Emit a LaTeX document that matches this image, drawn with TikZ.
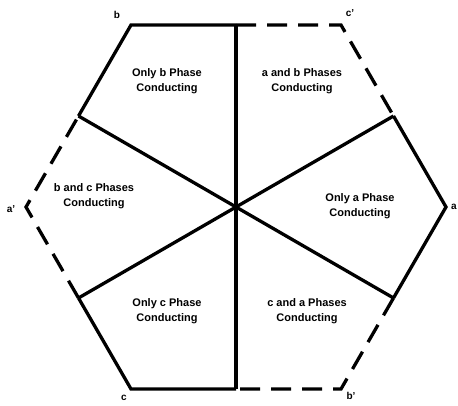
\documentclass[tikz,border=0pt]{standalone}
\usepackage{fontspec}
\setmainfont{Liberation Sans}
\begin{document}
\begin{tikzpicture}[x=1pt,y=-1pt,
  edge/.style={line width=3.3pt,line join=miter},
  dashedge/.style={line width=3.3pt,dash pattern=on 20pt off 11pt},
  region/.style={font=\fontsize{11}{15}\selectfont\bfseries,align=center,inner sep=0pt},
  vlabel/.style={font=\fontsize{10}{12}\selectfont\bfseries,inner sep=0pt}]
\useasboundingbox (0,0) rectangle (458,405);
% vertices
\coordinate (O) at (236,207);
\coordinate (A) at (446,207);
\coordinate (Cp) at (341,25);
\coordinate (B) at (131,25);
\coordinate (Ap) at (26,207);
\coordinate (C) at (131,389);
\coordinate (Bp) at (341,389);
% edge midpoints
\coordinate (Mt) at (236,25);
\coordinate (Mb) at (236,389);
\coordinate (M30) at (393.5,116);
\coordinate (M150) at (78.5,116);
\coordinate (M210) at (78.5,298);
\coordinate (M330) at (393.5,298);
% solid edges
\draw[edge] (M150) -- (B) -- (Mt);
\draw[edge] (M30) -- (A) -- (M330);
\draw[edge] (Mb) -- (C) -- (M210);
% dashed edges
\draw[dashedge] (Mt) -- (Cp) -- (M30);
\draw[dashedge] (M330) -- (Bp) -- (Mb);
\draw[dashedge] (M210) -- (Ap) -- (M150);
% spokes
\draw[edge] (Mt) -- (Mb);
\draw[edge] (M150) -- (M330);
\draw[edge] (M210) -- (M30);
% region labels
\node[region] (r1) at (167,81) {Only b Phase\\Conducting};
\node[region] (r2) at (302,81) {a and b Phases\\Conducting};
\node[region] (r3) at (94,196) {b and c Phases\\Conducting};
\node[region] (r4) at (360,206) {Only a Phase\\Conducting};
\node[region] (r5) at (167,311) {Only c Phase\\Conducting};
\node[region] (r6) at (307,311) {c and a Phases\\Conducting};
% vertex labels
\node[vlabel] (la) at (454,207) {a};
\node[vlabel] (lb) at (117,15) {b};
\node[vlabel] (lcp) at (350,13) {c'};
\node[vlabel] (lap) at (11,209) {a'};
\node[vlabel] (lc) at (124,398) {c};
\node[vlabel] (lbp) at (351,396) {b'};
\end{tikzpicture}
\end{document}
